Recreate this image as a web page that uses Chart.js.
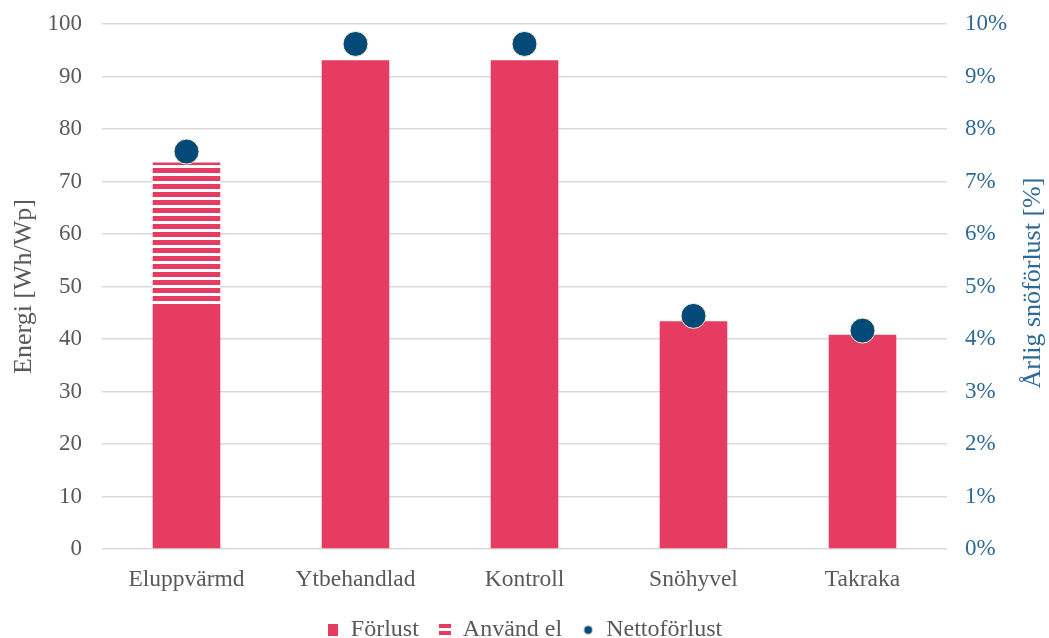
<!DOCTYPE html>
<html>
<head>
<meta charset="utf-8">
<script src="https://cdn.jsdelivr.net/npm/chart.js@4/dist/chart.umd.min.js"></script>
<style>
  html, body { margin: 0; padding: 0; background: #fff; }
  #wrap { width: 1049px; height: 638px; position: relative; }
</style>
</head>
<body>
<div id="wrap"><canvas id="c" width="1049" height="638"></canvas></div>
<script>
// ---- data ----
const categories = ['Eluppvärmd', 'Ytbehandlad', 'Kontroll', 'Snöhyvel', 'Takraka'];
const forlust = [46.3, 93.1, 93.1, 43.4, 40.8];          // Wh/Wp
const anvandEl = [27.3, null, null, null, null];          // Wh/Wp
const nettoforlust = [7.57, 9.62, 9.62, 4.44, 4.16];      // %
const seriesNames = ['Förlust', 'Använd el', 'Nettoförlust'];
const leftAxisTitle = 'Energi [Wh/Wp]';
const rightAxisTitle = 'Årlig snöförlust [%]';

// ---- styles ----
const RED = '#E63C62';
const BLUE = '#034A78';
const RBLUE = '#2E6A96';
const FONT = "'Liberation Serif', 'Times New Roman', serif";

function stripePattern() {
  const c = document.createElement('canvas');
  c.width = 8; c.height = 8;
  const g = c.getContext('2d');
  g.fillStyle = '#ffffff'; g.fillRect(0, 0, 8, 8);
  g.fillStyle = RED; g.fillRect(0, 0, 8, 5);
  return document.getElementById('c').getContext('2d').createPattern(c, 'repeat');
}
function iconRect() {
  const c = document.createElement('canvas'); c.width = 10; c.height = 12;
  const g = c.getContext('2d'); g.fillStyle = RED; g.fillRect(0, 0, 10, 12); return c;
}
function iconStripe() {
  const c = document.createElement('canvas'); c.width = 12; c.height = 12;
  const g = c.getContext('2d'); g.fillStyle = RED;
  g.fillRect(0, 0, 12, 4); g.fillRect(0, 7, 12, 4); return c;
}
function iconDot() {
  const c = document.createElement('canvas'); c.width = 11; c.height = 11;
  const g = c.getContext('2d'); g.fillStyle = BLUE;
  g.beginPath(); g.arc(5.5, 5.5, 4.5, 0, Math.PI * 2); g.fill();
  g.strokeStyle = '#FFF2CC'; g.lineWidth = 1; g.stroke(); return c;
}
const icons = [iconRect(), iconStripe(), iconDot()];

// right axis title reading bottom-to-top (like the left one)
const rightTitlePlugin = {
  id: 'rightTitle',
  afterDraw(chart) {
    const ctx = chart.ctx;
    const a = chart.chartArea;
    ctx.save();
    ctx.translate(1033, (a.top + a.bottom) / 2 - 3.5);
    ctx.rotate(-Math.PI / 2);
    ctx.font = "26px " + FONT;
    ctx.fillStyle = RBLUE;
    ctx.textAlign = 'center';
    ctx.textBaseline = 'middle';
    ctx.fillText(rightAxisTitle, 0, 0);
    ctx.restore();
  }
};

function noVPad(s) { s.paddingTop = 0; s.paddingBottom = 0; }

new Chart(document.getElementById('c'), {
  data: {
    labels: categories,
    datasets: [
      {
        type: 'line', label: seriesNames[2], data: nettoforlust, yAxisID: 'y1',
        showLine: false, pointRadius: 12.5, pointHoverRadius: 12.5,
        pointBackgroundColor: BLUE, pointBorderColor: '#FFF2CC', pointBorderWidth: 1,
        order: 0
      },
      {
        type: 'bar', label: seriesNames[0], data: forlust, yAxisID: 'y',
        backgroundColor: RED, borderWidth: 0, stack: 's', order: 1,
        barPercentage: 0.4, categoryPercentage: 1
      },
      {
        type: 'bar', label: seriesNames[1], data: anvandEl, yAxisID: 'y',
        backgroundColor: stripePattern(), borderWidth: 0, stack: 's', order: 1,
        barPercentage: 0.4, categoryPercentage: 1
      }
    ]
  },
  plugins: [rightTitlePlugin],
  options: {
    responsive: false,
    animation: false,
    events: [],
    layout: { padding: { top: 24, bottom: -14, left: 0, right: 0 } },
    plugins: {
      tooltip: { enabled: false },
      legend: {
        position: 'bottom',
        labels: {
          usePointStyle: true,
          boxWidth: 12, boxHeight: 12,
          padding: 20,
          color: '#595959',
          font: { family: FONT, size: 24 },
          generateLabels: (chart) => {
            const order = [1, 2, 0];
            return order.map((di, i) => ({
              text: chart.data.datasets[di].label,
              pointStyle: icons[i],
              fillStyle: RED, strokeStyle: 'transparent', lineWidth: 0,
              fontColor: '#595959',
              hidden: false, datasetIndex: di
            }));
          }
        }
      }
    },
    scales: {
      x: {
        stacked: true,
        grid: { display: false, drawTicks: false },
        border: { display: false },
        ticks: { color: '#595959', font: { family: FONT, size: 23.5 }, padding: 17 },
        afterFit: (s) => { s.height = 49; }
      },
      y: {
        stacked: true, position: 'left', min: 0, max: 100,
        ticks: { stepSize: 10, color: '#595959', font: { family: FONT, size: 23 }, padding: 20 },
        grid: { color: '#D9D9D9', lineWidth: 1.5, drawTicks: false },
        border: { display: false },
        title: { display: true, text: leftAxisTitle, color: '#595959',
                 font: { family: FONT, size: 26 }, padding: { top: 9, bottom: 0 } },
        afterFit: (s) => { s.width = 102; noVPad(s); }
      },
      y1: {
        position: 'right', min: 0, max: 10,
        ticks: { stepSize: 1, color: RBLUE, font: { family: FONT, size: 23 }, padding: 18,
                 callback: (v) => v + '%' },
        grid: { drawOnChartArea: false, drawTicks: false },
        border: { display: false },
        afterFit: (s) => { s.width = 102; noVPad(s); }
      }
    }
  }
});
</script>
</body>
</html>
